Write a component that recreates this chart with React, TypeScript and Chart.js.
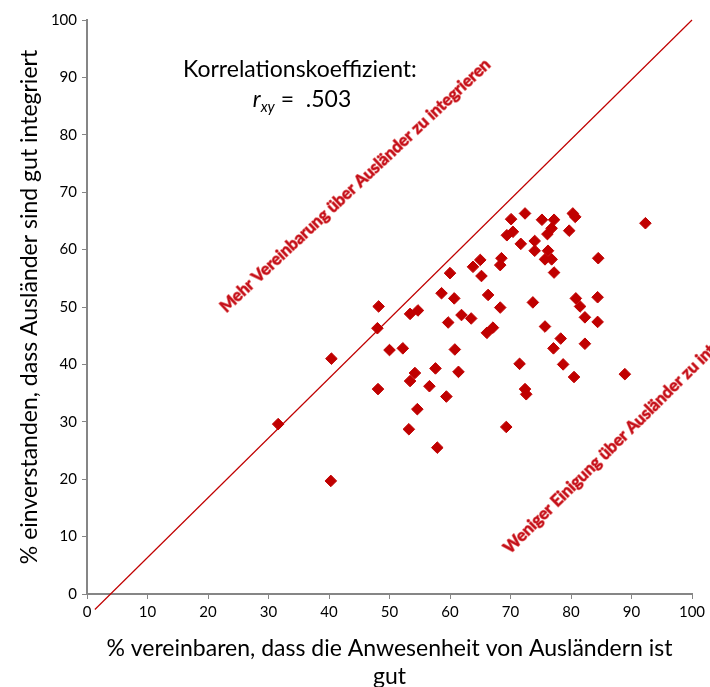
import React, { useEffect, useRef } from "react";
import { Chart, registerables } from "chart.js";

Chart.register(...registerables);

// Country-level survey shares (percent)
const agreePresenceGood: number[] = [
  31.6, 40.4, 40.3, 48.2, 48.0, 48.1, 50.0, 52.2, 53.4, 54.7, 54.2, 53.4, 53.2, 54.6, 57.6, 56.6, 57.9, 58.6,
  59.4, 59.7, 60.0, 60.7, 60.8, 61.4, 61.9, 63.5, 63.8, 65.0, 65.2, 66.3, 66.1, 67.1, 68.3, 68.3, 68.5, 69.4,
  70.4, 70.1, 71.7, 72.4, 74.0, 74.0, 73.7, 75.2, 77.2, 76.8, 76.1, 76.2, 75.7, 76.8, 77.2, 80.3, 80.7, 79.7,
  92.3, 84.5, 80.8, 81.5, 84.4, 82.3, 84.4, 75.7, 78.3, 77.1, 82.3, 71.5, 78.7, 80.5, 88.9, 72.4, 72.6, 69.3,
];
const agreeWellIntegrated: number[] = [
  29.6, 41.0, 19.7, 50.1, 46.3, 35.7, 42.5, 42.8, 48.8, 49.4, 38.5, 37.1, 28.7, 32.2, 39.3, 36.2, 25.5, 52.4,
  34.4, 47.3, 55.9, 51.5, 42.6, 38.7, 48.6, 48.0, 57.0, 58.2, 55.4, 52.1, 45.5, 46.4, 49.9, 57.3, 58.5, 62.5,
  63.1, 65.3, 61.0, 66.3, 61.5, 59.8, 50.8, 65.2, 65.2, 63.7, 62.7, 59.8, 58.3, 58.3, 56.0, 66.3, 65.7, 63.3,
  64.6, 58.5, 51.5, 50.1, 51.7, 48.2, 47.4, 46.6, 44.5, 42.8, 43.6, 40.1, 40.0, 37.8, 38.3, 35.7, 34.8, 29.1,
];

// Reference diagonal (equal agreement line)
const diagonalX: number[] = [1.3, 100];
const diagonalY: number[] = [-2.7, 100];

const correlationLabel = "Korrelationskoeffizient:";
const correlationValue = ".503";
const upperNote = "Mehr Vereinbarung über Ausländer zu integrieren";
const lowerNote = "Weniger Einigung über Ausländer zu integrieren";

const xTitle = ["% vereinbaren, dass die Anwesenheit von Ausländern ist", "gut"];
const yTitle = "% einverstanden, dass Ausländer sind gut integriert";

const RED = "#c00000";
const AXIS_GREY = "#868686";
const FONT = "Lato, 'Open Sans', sans-serif";

const annotationPlugin = {
  id: "notes",
  afterDraw(chart: any) {
    const { ctx, scales } = chart;
    const xs = scales.x;
    const ys = scales.y;
    ctx.save();

    // correlation coefficient text
    ctx.fillStyle = "#000";
    ctx.textBaseline = "alphabetic";
    ctx.textAlign = "center";
    ctx.font = `23px ${FONT}`;
    ctx.fillText(correlationLabel, xs.getPixelForValue(35.2), ys.getPixelForValue(90.1));

    let cx = xs.getPixelForValue(27.4);
    const baseY = ys.getPixelForValue(84.9);
    ctx.textAlign = "left";
    ctx.font = `italic 23px ${FONT}`;
    ctx.fillText("r", cx, baseY);
    cx += ctx.measureText("r").width;
    ctx.font = `italic 15px ${FONT}`;
    ctx.fillText("xy", cx, baseY + 5);
    cx += ctx.measureText("xy").width;
    ctx.font = `23px ${FONT}`;
    ctx.fillText(" =  " + correlationValue, cx, baseY);

    // diagonal notes
    const drawNote = (text: string, xv: number, yv: number, deg: number) => {
      ctx.save();
      ctx.translate(xs.getPixelForValue(xv), ys.getPixelForValue(yv));
      ctx.rotate((deg * Math.PI) / 180);
      ctx.font = `bold 16.5px ${FONT}`;
      ctx.textAlign = "left";
      ctx.textBaseline = "middle";
      ctx.lineJoin = "round";
      ctx.strokeStyle = "rgba(214, 40, 40, 0.6)";
      ctx.lineWidth = 1.4;
      ctx.strokeText(text, 0, 0);
      ctx.fillStyle = "#c4101a";
      ctx.fillText(text, 0, 0);
      ctx.restore();
    };
    drawNote(upperNote, 22.4, 49.6, -43);
    drawNote(lowerNote, 69.3, 7.6, -44.5);

    ctx.restore();
  },
};

export default function App() {
  const canvasRef = useRef<HTMLCanvasElement | null>(null);

  useEffect(() => {
    const canvas = canvasRef.current;
    if (!canvas) return;

    const points = agreePresenceGood.map((x, i) => ({ x, y: agreeWellIntegrated[i] }));
    const diagonal = diagonalX.map((x, i) => ({ x, y: diagonalY[i] }));

    const chart = new Chart(canvas, {
      type: "scatter",
      data: {
        datasets: [
          {
            type: "line",
            data: diagonal,
            borderColor: RED,
            borderWidth: 1.2,
            pointRadius: 0,
            fill: false,
            clip: false,
            order: 1,
          } as any,
          {
            data: points,
            pointStyle: "rectRot",
            pointRadius: 5.8,
            pointBackgroundColor: RED,
            pointBorderColor: RED,
            pointBorderWidth: 1,
            order: 0,
          },
        ],
      },
      options: {
        responsive: false,
        animation: false,
        layout: { padding: { top: 20, right: 18, left: 0, bottom: 0 } },
        plugins: {
          legend: { display: false },
          tooltip: { enabled: false },
        },
        scales: {
          x: {
            type: "linear",
            min: 0,
            max: 100,
            ticks: { stepSize: 10, color: "#000", font: { family: FONT, size: 15 }, padding: 4 },
            grid: { display: true, drawOnChartArea: false, drawTicks: true, tickLength: 5, color: AXIS_GREY },
            border: { display: true, color: AXIS_GREY, width: 2 },
            title: {
              display: true,
              text: xTitle,
              color: "#000",
              font: { family: FONT, size: 23, lineHeight: 1.22 },
              padding: { top: 0, bottom: -4 },
            },
            afterFit: (scale: any) => {
              scale.height = 93;
            },
          },
          y: {
            type: "linear",
            min: 0,
            max: 100,
            ticks: { stepSize: 10, color: "#000", font: { family: FONT, size: 15 }, padding: 5 },
            grid: { display: true, drawOnChartArea: false, drawTicks: true, tickLength: 5, color: AXIS_GREY },
            border: { display: true, color: AXIS_GREY, width: 2 },
            title: {
              display: true,
              text: yTitle,
              color: "#000",
              font: { family: FONT, size: 23, lineHeight: 1.2 },
              padding: { top: 16, bottom: 0 },
            },
            afterFit: (scale: any) => {
              scale.width = 87;
            },
          },
        },
      } as any,
      plugins: [annotationPlugin],
    });

    return () => chart.destroy();
  }, []);

  return (
    <div style={{ position: "fixed", left: 0, top: 0, width: 710, height: 687, background: "#fff" }}>
      <canvas ref={canvasRef} width={710} height={687} />
    </div>
  );
}
